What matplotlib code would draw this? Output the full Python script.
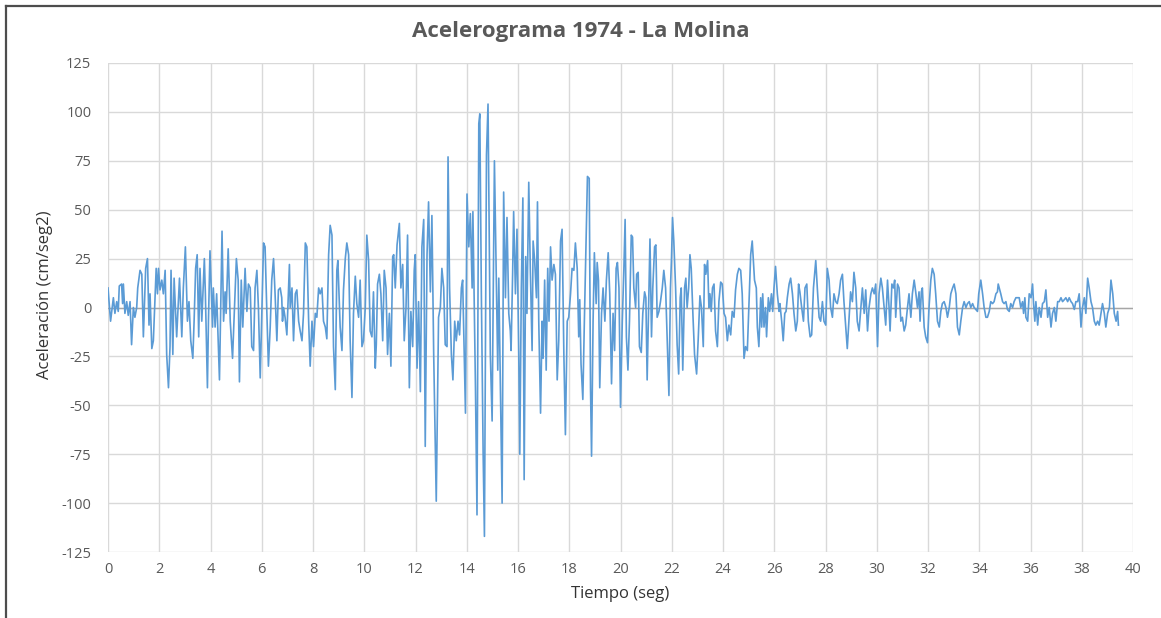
import numpy as np
import matplotlib
matplotlib.use("Agg")
import matplotlib.pyplot as plt
from matplotlib.lines import Line2D

plt.rcParams['font.family'] = ['Open Sans', 'DejaVu Sans']
plt.rcParams['axes.unicode_minus'] = False

title = "Acelerograma 1974 - La Molina"
xlabel = "Tiempo (seg)"
ylabel = "Aceleración (cm/seg2)"
x_ticks = list(range(0, 41, 2))
y_ticks = list(range(-125, 126, 25))

# time (s) and acceleration (cm/s2), segment by segment
t_00_05 = [0.0,0.10,0.21,0.27,0.34,0.40,0.44,0.53,0.57,0.60,
           0.66,0.73,0.79,0.86,0.92,0.99,1.05,1.12,1.16,1.25,
           1.32,1.38,1.47,1.54,1.60,1.64,1.71,1.77,1.88,1.93,
           1.97,2.03,2.10,2.16,2.23,2.29,2.36,2.42,2.46,2.53,
           2.58,2.68,2.79,2.88,2.94,3.02,3.10,3.16,3.23,3.31,
           3.36,3.42,3.48,3.54,3.59,3.66,3.76,3.80,3.88,3.92,
           3.98,4.08,4.11,4.18,4.24,4.35,4.45,4.51,4.57,4.61,
           4.69,4.77,4.86,5.01,5.08,5.13]
a_00_05 = [10,-7,5,-3,3,-2,11,12,2,12,
           -3,3,-4,3,-19,0,-5,0,10,19,
           17,-15,20,25,-9,7,-21,-17,20,7,
           20,9,14,7,19,-24,-41,-20,19,-24,
           15,-15,15,-15,10,31,-7,3,-17,-26,
           -7,20,27,-15,20,-7,25,7,-41,-7,
           29,-10,10,-10,7,-37,39,-7,8,-3,
           30,-7,-26,25,14,-38]

t_05_10 = [5.20,5.26,5.35,5.42,5.48,5.55,5.61,5.68,5.74,5.81,
           5.87,5.94,6.07,6.13,6.20,6.26,6.33,6.39,6.46,6.52,
           6.59,6.65,6.72,6.78,6.81,6.85,6.91,6.98,7.02,7.08,
           7.11,7.18,7.24,7.31,7.37,7.44,7.50,7.57,7.63,7.70,
           7.76,7.83,7.89,7.96,8.02,8.09,8.15,8.22,8.28,8.35,
           8.41,8.48,8.54,8.61,8.67,8.74,8.80,8.87,8.93,8.97,
           9.06,9.13,9.19,9.26,9.32,9.39,9.45,9.52,9.58,9.65,
           9.71,9.78,9.84,9.91,9.97,10.04,10.10]
a_05_10 = [14,-10,20,-2,12,10,-20,-22,10,19,
           0,-36,33,31,-3,-30,-10,14,25,7,
           -17,9,10,5,-7,0,-5,-14,0,22,
           0,10,-17,7,9,-7,-12,-17,-3,33,
           31,-7,-30,-7,-20,-3,-5,10,7,10,
           -7,-10,-16,27,42,37,-20,-42,19,24,
           -10,-22,9,25,33,27,-17,-46,-3,16,
           2,-5,14,-20,-17,0,37]

t_10_15 = [10.17,10.23,10.30,10.36,10.43,10.47,10.52,10.59,10.65,10.72,
           10.78,10.85,10.91,10.98,11.04,11.11,11.15,11.21,11.28,11.37,
           11.43,11.50,11.56,11.63,11.69,11.76,11.82,11.89,11.95,11.99,
           12.06,12.12,12.19,12.25,12.32,12.38,12.45,12.51,12.58,12.64,
           12.71,12.81,12.90,12.97,13.03,13.10,13.16,13.23,13.27,13.33,
           13.40,13.46,13.53,13.59,13.66,13.72,13.79,13.84,13.95,14.01,
           14.08,14.14,14.21,14.24,14.34,14.40,14.47,14.51,14.57,14.64,
           14.69,14.77,14.83,14.92,14.99,15.08,15.16,15.21]
a_10_15 = [24,-12,-15,8,-31,-19,12,17,7,-17,
           19,10,-24,-3,-30,26,27,10,32,43,
           10,22,-17,0,37,-41,-2,-20,19,27,
           -31,3,-43,31,45,-71,27,54,8,47,
           -24,-99,-5,0,20,10,-19,-20,77,10,
           -24,-37,-7,-17,-7,-14,10,14,-54,58,
           31,48,10,49,-41,-106,94,99,7,-75,
           -117,78,104,-24,-58,75,10,-32]

t_15_20 = [15.25,15.38,15.44,15.51,15.57,15.64,15.70,15.73,15.79,15.83,
           15.90,15.96,16.03,16.07,16.13,16.19,16.24,16.30,16.35,16.42,
           16.48,16.55,16.59,16.65,16.72,16.76,16.81,16.88,16.94,16.98,
           17.04,17.10,17.16,17.21,17.27,17.33,17.40,17.46,17.53,17.59,
           17.66,17.72,17.79,17.85,17.92,17.98,18.05,18.11,18.18,18.24,
           18.31,18.37,18.41,18.46,18.53,18.59,18.66,18.71,18.78,18.83,
           18.87,18.93,18.98,19.05,19.09,19.14,19.19,19.26,19.32,19.39,
           19.45,19.52,19.58,19.65,19.71,19.77,19.83,19.88,19.94,20.00,
           20.07,20.13,20.18]
a_15_20 = [15,-100,59,5,46,-3,-12,-22,17,49,
           7,40,-24,-75,10,56,-88,26,-3,64,
           20,-22,34,24,5,54,-7,-54,-7,-26,
           14,-32,20,-7,31,14,22,17,-37,-17,
           34,40,-24,-65,-7,-5,7,20,19,33,
           20,-15,4,-29,-47,-7,36,67,66,-41,
           -76,-7,28,2,23,14,-41,-3,10,-7,
           14,28,7,-39,-3,-22,20,23,10,-51,
           -7,19,45]

t_20_25 = [20.23,20.29,20.35,20.42,20.47,20.52,20.59,20.63,20.69,20.74,
           20.81,20.87,20.94,20.99,21.04,21.11,21.15,21.21,21.26,21.33,
           21.38,21.43,21.50,21.56,21.63,21.69,21.76,21.82,21.89,21.95,
           21.99,22.03,22.08,22.15,22.21,22.27,22.33,22.37,22.43,22.50,
           22.55,22.60,22.66,22.71,22.76,22.83,22.89,22.97,23.03,23.10,
           23.16,23.23,23.28,23.33,23.40,23.45,23.49,23.54,23.59,23.65,
           23.71,23.78,23.84,23.91,23.97,24.04,24.10,24.17,24.23,24.30,
           24.36,24.43,24.49,24.56,24.62,24.69,24.75,24.82,24.88,24.95,
           25.01,25.08,25.14]
a_20_25 = [-15,-32,-7,37,36,10,0,17,18,-20,
           -23,-3,8,5,-37,10,35,-15,10,31,
           32,-5,-2,3,10,19,10,-15,-45,10,
           25,46,34,10,-19,-34,5,10,-32,10,
           15,0,10,27,20,-5,-24,-34,-17,6,
           0,-20,22,17,24,0,7,-2,10,12,
           -12,-20,3,13,12,-3,-5,-17,-9,-14,
           -2,-5,9,17,20,19,7,-26,-20,-22,
           0,27,34]

t_25_30 = [25.23,25.30,25.34,25.40,25.47,25.51,25.55,25.60,25.66,25.70,
           25.77,25.82,25.89,25.94,25.99,26.05,26.12,26.19,26.22,26.29,
           26.35,26.41,26.46,26.51,26.58,26.64,26.71,26.77,26.84,26.90,
           26.95,27.00,27.07,27.14,27.20,27.27,27.33,27.40,27.46,27.53,
           27.62,27.68,27.75,27.81,27.88,27.94,28.01,28.07,28.14,28.20,
           28.27,28.33,28.40,28.46,28.53,28.59,28.66,28.72,28.79,28.85,
           28.92,28.98,29.05,29.11,29.18,29.24,29.31,29.38,29.44,29.51,
           29.57,29.64,29.70,29.77,29.83,29.90,29.96,30.03,30.09,30.16,
           30.22,30.29,30.35]
a_25_30 = [14,10,-10,-20,5,-10,7,-10,0,-15,
           5,-2,7,-2,10,21,7,-2,2,-7,
           -17,-3,-2,5,12,15,7,-3,-12,-7,
           12,8,0,-7,10,12,-7,-15,-14,10,
           24,10,-5,-7,3,-7,-9,20,14,0,
           -5,7,3,2,7,14,17,3,-10,-21,
           -5,8,3,18,10,-7,-12,0,10,-3,
           9,-12,0,7,10,7,12,-20,7,15,
           10,0,-9]

t_30_35 = [30.42,30.48,30.52,30.59,30.65,30.70,30.74,30.81,30.87,30.94,
           31.00,31.07,31.13,31.20,31.26,31.33,31.39,31.46,31.52,31.59,
           31.65,31.69,31.74,31.78,31.85,31.91,31.98,32.04,32.11,32.17,
           32.24,32.30,32.37,32.44,32.50,32.56,32.63,32.70,32.76,32.83,
           32.89,32.96,33.02,33.09,33.15,33.22,33.28,33.35,33.41,33.48,
           33.54,33.61,33.67,33.74,33.80,33.93,33.98,34.06,34.13,34.19,
           34.26,34.32,34.39,34.45,34.52,34.58,34.65,34.71,34.74,34.78,
           34.84,34.91,34.97,35.04,35.10,35.17,35.23,35.30,35.36,35.43,
           35.49]
a_30_35 = [14,0,-12,12,10,14,-5,12,10,-7,
           -5,-12,-9,0,7,-5,7,14,8,0,
           8,-7,8,10,-10,-15,-18,0,14,20,
           17,7,-7,-10,-2,2,3,0,-5,0,
           7,10,12,7,-10,-14,-7,0,3,0,
           2,3,0,2,0,-2,7,14,7,0,
           -5,-5,-2,3,2,3,7,8,12,10,
           7,3,2,3,-1,-2,2,0,3,5,
           5]

t_35_40 = [35.56,35.62,35.69,35.73,35.78,35.82,35.89,35.95,36.02,36.08,
           36.12,36.17,36.21,36.28,36.34,36.41,36.47,36.54,36.60,36.67,
           36.73,36.80,36.86,36.93,36.99,37.06,37.12,37.19,37.25,37.32,
           37.38,37.45,37.51,37.58,37.64,37.71,37.77,37.84,37.90,37.97,
           38.03,38.10,38.16,38.23,38.29,38.36,38.42,38.49,38.55,38.62,
           38.68,38.75,38.81,38.88,38.94,39.01,39.08,39.14,39.21,39.27,
           39.34,39.40,39.43]
a_35_40 = [5,0,3,-3,5,-5,-7,7,5,12,
           2,-7,3,-9,0,-5,2,3,9,-5,
           0,-10,-3,0,-7,3,3,5,3,4,
           5,3,5,3,2,-1,3,3,7,-10,
           0,5,-3,15,10,3,0,-7,-9,-7,
           -9,-3,2,-3,-10,-3,0,14,7,-3,
           -7,-2,-9]

t_segs = [t_00_05, t_05_10, t_10_15, t_15_20, t_20_25, t_25_30, t_30_35, t_35_40]
a_segs = [a_00_05, a_05_10, a_10_15, a_15_20, a_20_25, a_25_30, a_30_35, a_35_40]
for ts, as_ in zip(t_segs, a_segs):
    assert len(ts) == len(as_), (len(ts), len(as_))
time = np.concatenate(t_segs)
accel = np.concatenate(a_segs)

W, H = 1161, 618
fig = plt.figure(figsize=(W / 100, H / 100), dpi=100)
fig.patch.set_facecolor('white')
ax = fig.add_axes([108 / W, 1 - 552 / H, (1133 - 108) / W, (552 - 63) / H])

text_col = '#595959'
grid_col = '#d9d9d9'

ax.plot(time, accel, color='#5b9bd5', lw=1.2, zorder=3)
ax.axhline(0, color='#a6a6a6', lw=1.0, zorder=2)

ax.set_xlim(0, 40)
ax.set_ylim(-125, 125)
ax.set_xticks(x_ticks)
ax.set_yticks(y_ticks)
ax.grid(True, color=grid_col, lw=1.0, zorder=0)
for s in ax.spines.values():
    s.set_visible(False)
ax.tick_params(axis='both', length=0, colors=text_col, labelsize=10.5)
ax.tick_params(axis='y', pad=12)
ax.tick_params(axis='x', pad=7)

fig.text(0.5, 1 - 32 / H, title, ha='center', va='center', fontsize=16,
         fontweight='bold', color=text_col)
fig.text((108 + 1133) / 2 / W, 1 - 594 / H, xlabel, ha='center', va='center',
         fontsize=12, color='#333333')
fig.text(45 / W, 1 - 295 / H, ylabel, ha='center', va='center', rotation=90,
         fontsize=12, color='#333333')

# outer chart border (left and top edges visible)
fig.add_artist(Line2D([6 / W, 6 / W], [0, 1 - 6 / H], transform=fig.transFigure,
                      color='#4d4d4d', lw=1.6))
fig.add_artist(Line2D([6 / W, 1], [1 - 6 / H, 1 - 6 / H], transform=fig.transFigure,
                      color='#4d4d4d', lw=1.6))

fig.savefig('out.png', dpi=100, facecolor='white')
